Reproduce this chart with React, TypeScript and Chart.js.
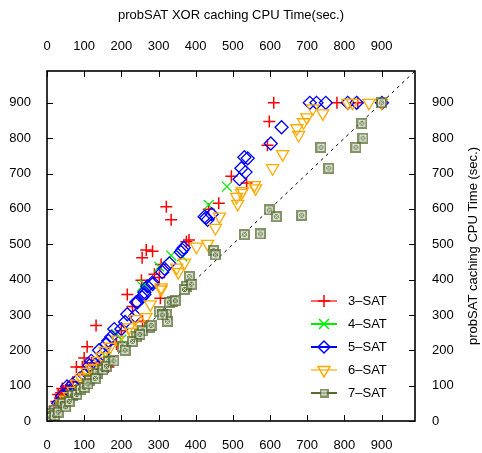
import { useEffect, useRef } from 'react';
import { Chart, registerables } from 'chart.js';

Chart.register(...registerables);

const FONT = '"Liberation Sans", Arial, Helvetica, sans-serif';
const AXIS_MAX = 990;
const tickValues = [0, 100, 200, 300, 400, 500, 600, 700, 800, 900];
const topTitle = 'probSAT XOR caching CPU Time(sec.)';
const rightTitle = 'probSAT caching CPU Time (sec.)';
const seriesNames = ['3–SAT', '4–SAT', '5–SAT', '6–SAT', '7–SAT'];
const seriesColors = ['#ff0000', '#00ee00', '#0000ff', '#ffaa00', '#556b2f'];

const sat3: [number, number][] = [
  [610, 900], [780, 900], [836, 900], [598, 847], [593, 780], [496, 692], [537, 673], [462, 616],
  [435, 599], [321, 606], [334, 569], [375, 507], [382, 512], [267, 484], [284, 480], [256, 462],
  [307, 443], [289, 415], [302, 406], [254, 398], [216, 358], [305, 347], [230, 324], [257, 282],
  [200, 255], [132, 270], [108, 210], [187, 218], [100, 178], [79, 153], [95, 153], [165, 153],
  [120, 165], [140, 160], [110, 130], [65, 100], [70, 110], [55, 95], [41, 92], [45, 85],
  [50, 88], [38, 80], [60, 80], [48, 70], [30, 75], [35, 65], [25, 55], [20, 40], [15, 30], [10, 20],
];
const sat4: [number, number][] = [
  [435, 611], [484, 663], [262, 387], [187, 246], [334, 468], [364, 466], [302, 437], [256, 381],
  [200, 230], [160, 180], [140, 150], [115, 140], [90, 100], [70, 80], [50, 60], [30, 45], [20, 25], [60, 75],
];
const sat5: [number, number][] = [
  [707, 900], [725, 900], [750, 900], [809, 900], [833, 900], [901, 900], [631, 831], [602, 785],
  [531, 746], [540, 743], [523, 715], [534, 704], [518, 684], [424, 578], [432, 569], [443, 585],
  [428, 575], [364, 484], [360, 478], [368, 490], [329, 446], [316, 431], [310, 421], [284, 392],
  [270, 381], [262, 364], [256, 350], [243, 336], [284, 387], [262, 358], [240, 336], [216, 302],
  [237, 297], [181, 260], [173, 238], [165, 227], [160, 218], [119, 170], [114, 157], [87, 120],
  [68, 103], [54, 98], [40, 70], [30, 50], [20, 30], [60, 85], [75, 95], [100, 130], [130, 160],
  [150, 190], [140, 200], [200, 260], [210, 280],
];
const sat6: [number, number][] = [
  [809, 900], [822, 900], [866, 900], [900, 900], [715, 884], [742, 870], [699, 859], [690, 845],
  [672, 828], [677, 809], [634, 755], [607, 715], [558, 667], [561, 658], [526, 650], [523, 645],
  [510, 634], [513, 614], [464, 578], [453, 546], [402, 493], [432, 501], [370, 448], [349, 434],
  [353, 421], [307, 378], [278, 330], [307, 372], [266, 294], [237, 288], [221, 265], [226, 252],
  [156, 198], [148, 182], [119, 148], [108, 139], [79, 106], [92, 120], [40, 50], [30, 35],
  [50, 60], [60, 70], [20, 20], [70, 85], [100, 125], [130, 150], [140, 170], [170, 210], [190, 230], [250, 270],
];
const sat7: [number, number][] = [
  [900, 900], [847, 842], [850, 800], [831, 774], [737, 774], [758, 715], [598, 597], [617, 578],
  [685, 582], [531, 527], [574, 529], [448, 482], [453, 470], [383, 409], [375, 381], [370, 372],
  [337, 338], [329, 336], [302, 310], [321, 302], [324, 282], [389, 387], [275, 265], [257, 255],
  [240, 238], [203, 210], [165, 168], [135, 134], [114, 115], [68, 73], [41, 50], [19, 31], [6, 22],
  [10, 10], [20, 15], [30, 25], [50, 40], [60, 55], [80, 75], [90, 90], [100, 95], [110, 105],
  [130, 120], [150, 145], [160, 155], [180, 170], [210, 200], [230, 225], [250, 245], [280, 270],
  [310, 300], [345, 340],
];
const diagonal: [number, number][] = [[0, 0], [AXIS_MAX, AXIS_MAX]];

function boxedX(size: number): HTMLCanvasElement {
  const c = document.createElement('canvas');
  c.width = size;
  c.height = size;
  const g = c.getContext('2d')!;
  g.fillStyle = 'rgba(85,107,47,0.72)';
  g.fillRect(0, 0, size, size);
  g.strokeStyle = 'rgba(255,255,255,0.75)';
  g.lineWidth = 1;
  g.strokeRect(2.5, 2.5, size - 5, size - 5);
  g.beginPath();
  g.moveTo(3, 3);
  g.lineTo(size - 3, size - 3);
  g.moveTo(size - 3, 3);
  g.lineTo(3, size - 3);
  g.stroke();
  return c;
}

function drawMarker(ctx: CanvasRenderingContext2D, i: number, x: number, y: number, img: HTMLCanvasElement) {
  ctx.save();
  ctx.strokeStyle = seriesColors[i];
  ctx.lineWidth = 1.5;
  ctx.beginPath();
  if (i === 0) {
    ctx.moveTo(x - 6, y); ctx.lineTo(x + 6, y); ctx.moveTo(x, y - 6); ctx.lineTo(x, y + 6);
    ctx.stroke();
  } else if (i === 1) {
    ctx.moveTo(x - 5, y - 5); ctx.lineTo(x + 5, y + 5); ctx.moveTo(x + 5, y - 5); ctx.lineTo(x - 5, y + 5);
    ctx.stroke();
  } else if (i === 2) {
    ctx.moveTo(x - 6, y); ctx.lineTo(x, y - 6); ctx.lineTo(x + 6, y); ctx.lineTo(x, y + 6); ctx.closePath();
    ctx.stroke();
  } else if (i === 3) {
    ctx.moveTo(x - 6, y - 3.5); ctx.lineTo(x + 6, y - 3.5); ctx.lineTo(x, y + 7); ctx.closePath();
    ctx.stroke();
  } else {
    ctx.drawImage(img, x - img.width / 2, y - img.height / 2);
  }
  ctx.restore();
}

export default function App() {
  const ref = useRef<HTMLCanvasElement>(null);
  useEffect(() => {
    document.body.style.margin = '0';
    const canvas = ref.current!;
    const boxImg = boxedX(11);
    const legendImg = boxedX(9);
    const toPts = (a: [number, number][]) => a.map(([x, y]) => ({ x, y }));

    const decor = {
      id: 'decor',
      beforeDatasetsDraw(chart: any) {
        const { ctx, chartArea: a, scales } = chart;
        ctx.save();
        ctx.strokeStyle = '#000';
        ctx.lineWidth = 1;
        ctx.beginPath();
        for (const v of tickValues) {
          const px = Math.round(scales.x.getPixelForValue(v)) + 0.5;
          const py = Math.round(scales.y.getPixelForValue(v)) + 0.5;
          ctx.moveTo(px, a.bottom); ctx.lineTo(px, a.bottom - 6);
          ctx.moveTo(px, a.top); ctx.lineTo(px, a.top + 6);
          ctx.moveTo(a.left, py); ctx.lineTo(a.left + 6, py);
          ctx.moveTo(a.right, py); ctx.lineTo(a.right - 6, py);
        }
        ctx.stroke();
        ctx.restore();
      },
      afterDraw(chart: any) {
        const { ctx, chartArea: a } = chart;
        ctx.save();
        ctx.strokeStyle = '#000';
        ctx.lineWidth = 1.6;
        ctx.strokeRect(a.left, a.top, a.right - a.left, a.bottom - a.top);
        ctx.fillStyle = '#000';
        ctx.font = `13px ${FONT}`;
        ctx.textAlign = 'center';
        ctx.textBaseline = 'middle';
        ctx.fillText(topTitle, (a.left + a.right) / 2, 15);
        ctx.save();
        ctx.translate(473, (a.top + a.bottom) / 2);
        ctx.rotate(-Math.PI / 2);
        ctx.fillText(rightTitle, 0, 0);
        ctx.restore();
        ctx.textAlign = 'left';
        for (let i = 0; i < seriesNames.length; i++) {
          const ly = 301 + i * 23;
          ctx.save();
          ctx.globalAlpha = i === 0 || i === 3 ? 0.6 : 1;
          ctx.strokeStyle = seriesColors[i];
          ctx.lineWidth = 2;
          ctx.beginPath();
          ctx.moveTo(311, ly); ctx.lineTo(337, ly);
          ctx.stroke();
          ctx.restore();
          drawMarker(ctx, i, 324, ly, legendImg);
          ctx.fillStyle = '#000';
          ctx.fillText(seriesNames[i], 348, ly);
        }
        ctx.restore();
      },
    };

    const axis = (position: string, axisName: string, size: number, padding: number) => ({
      type: 'linear' as const,
      axis: axisName,
      position,
      min: 0,
      max: AXIS_MAX,
      grid: { display: false, drawTicks: false },
      border: { display: false },
      ticks: {
        color: '#000',
        padding,
        maxRotation: 0,
        autoSkip: false,
        font: { size: 13, family: FONT },
      },
      afterBuildTicks: (s: any) => {
        s.ticks = tickValues.map((v) => ({ value: v }));
      },
      afterFit: (s: any) => {
        if (axisName === 'x') s.height = size;
        else s.width = size;
      },
    });

    const chart = new Chart(canvas, {
      type: 'scatter',
      data: {
        datasets: [
          { label: seriesNames[0], data: toPts(sat3), pointStyle: 'cross', pointRadius: 6, borderColor: seriesColors[0], backgroundColor: seriesColors[0], pointBorderWidth: 1.5, order: 5 },
          { label: seriesNames[1], data: toPts(sat4), pointStyle: 'crossRot', pointRadius: 7, borderColor: seriesColors[1], backgroundColor: seriesColors[1], pointBorderWidth: 1.2, order: 4 },
          { label: seriesNames[2], data: toPts(sat5), pointStyle: 'rectRot', pointRadius: 6.5, borderColor: seriesColors[2], backgroundColor: 'rgba(0,0,0,0)', pointBorderWidth: 1.3, order: 3 },
          { label: seriesNames[3], data: toPts(sat6), pointStyle: 'triangle', rotation: 180, pointRadius: 7, borderColor: seriesColors[3], backgroundColor: 'rgba(0,0,0,0)', pointBorderWidth: 1.3, order: 2 },
          { label: seriesNames[4], data: toPts(sat7), pointStyle: boxImg, pointRadius: 6, borderColor: seriesColors[4], backgroundColor: seriesColors[4], order: 1 },
          { label: 'diag', data: toPts(diagonal), showLine: true, pointRadius: 0, borderColor: '#000', borderWidth: 1, borderDash: [3, 4], order: 6 },
        ] as any,
      },
      options: {
        animation: false,
        responsive: false,
        events: [],
        layout: { padding: 0 },
        plugins: { legend: { display: false }, tooltip: { enabled: false } },
        scales: {
          x: axis('bottom', 'x', 32, 17),
          x2: axis('top', 'x', 71, 17),
          y: axis('left', 'y', 47, 16),
          y2: axis('right', 'y', 67, 17),
        } as any,
      },
      plugins: [decor],
    });
    return () => chart.destroy();
  }, []);
  return <canvas ref={ref} width={482} height={453} style={{ display: 'block' }} />;
}
